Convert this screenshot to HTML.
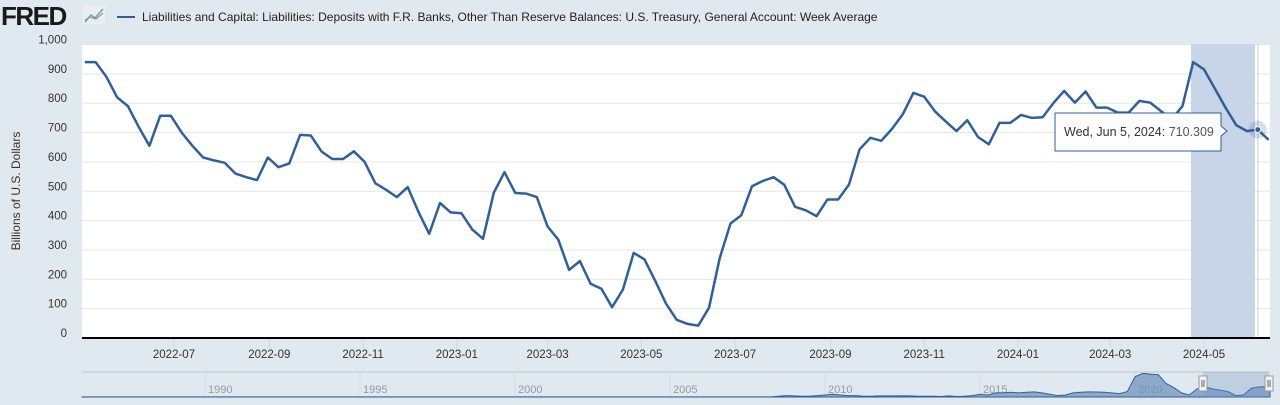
<!DOCTYPE html>
<html><head><meta charset="utf-8"><style>
html,body{margin:0;padding:0;background:#e1e9f0;width:1280px;height:405px;overflow:hidden;font-family:"Liberation Sans",sans-serif}
svg text{font-family:"Liberation Sans",sans-serif}
</style></head><body>
<svg id="chart" width="1280" height="405">
<g>
<text x="1" y="25" font-size="26" font-weight="bold" fill="#1a1a1a" letter-spacing="-1.5">FRED</text>
<rect x="83" y="6" width="22" height="18" fill="#e8eef3"/>
<polyline points="85,22 91,15 95,18 103,9" fill="none" stroke="#7fa86a" stroke-width="1.5"/>
<polyline points="85,20 90,17 96,19 103,13" fill="none" stroke="#6b8cb8" stroke-width="1"/>
</g>
<line x1="117" y1="17" x2="135" y2="17" stroke="#2f5f98" stroke-width="2"/>
<text x="142" y="21" font-size="12" fill="#222">Liabilities and Capital: Liabilities: Deposits with F.R. Banks, Other Than Reserve Balances: U.S. Treasury, General Account: Week Average</text>
<rect x="82" y="44" width="1188" height="294" fill="#fff"/>
<g id="grid"></g>
<rect x="1191" y="44" width="64" height="294" fill="#c8d4e8"/>
<line x1="1258" y1="44" x2="1258" y2="338" stroke="#ccc" stroke-width="1"/>
<g id="yticks"></g>
<g id="xticks"></g>
<text transform="translate(20,191) rotate(-90)" text-anchor="middle" font-size="12" fill="#333">Billions of U.S. Dollars</text>
<path id="line" fill="none" stroke="#30609a" stroke-width="2.5" stroke-linejoin="round"/>
<line x1="82" y1="338" x2="1270" y2="338" stroke="#000" stroke-width="2"/>
<g id="nav"></g>
<circle id="halo" r="9" fill="#30609a" opacity="0.2"/>
<circle id="dot" r="3" fill="#30609a" stroke="#fff" stroke-width="1"/>
<g>
<path d="M1055,113 H1221 V126 L1227,131 L1221,136 V151 H1055 Z" fill="#fdfdfe" stroke="#30609a" stroke-width="1"/>
<text x="1064" y="136" font-size="12.5" fill="#333">Wed, Jun 5, 2024: <tspan fill="#555">710.309</tspan></text>
</g>
</svg>
<script>
const values = [940,940,890,820,790,720,655,757,757,700,655,615,605,597,560,548,538,615,582,595,692,690,635,610,610,636,600,527,505,480,514,430,355,460,428,425,370,338,495,565,494,492,480,380,335,232,262,185,168,105,165,290,268,195,118,62,48,42,103,272,390,418,517,535,548,522,447,435,415,472,472,522,643,682,672,712,762,835,822,772,738,705,742,685,660,733,733,760,750,752,800,842,802,840,785,785,768,768,808,802,773,745,790,940,915,850,785,725,705,710,675];
const startDate = "2022-05-04";
const yTicks = [0,100,200,300,400,500,600,700,800,900,1000];
const xTickLabels = ["2022-07","2022-09","2022-11","2023-01","2023-03","2023-05","2023-07","2023-09","2023-11","2024-01","2024-03","2024-05"];
const navYears = ["1990","1995","2000","2005","2010","2015","2020"];
// quarterly navigator values from 2008 Q1 to mid-2024 (billions); earlier history ~5
const navStart = 2008;
const navValues = [5,5,50,100, 80,60,50,100, 150,200,150,100, 100,50,60,80, 80,80,90,80, 60,50,60,40, 80,40,60,100, 200,150,300,300, 350,300,350,380, 300,200,100,150, 300,350,380,370, 350,300,250,400, 1500,1750,1700,1650, 1000,700,300,150, 600,750,600,500, 400,100,150,650, 750,750,700];
const NS="http://www.w3.org/2000/svg";
const DAY=86400000, T0=Date.UTC(2022,6,1), T1=Date.UTC(2024,4,1);
function x(t){return 174+(t-T0)/(T1-T0)*(1204-174);}
function y(v){return 338-v*0.2935;}
function nx(yr){return 205+(yr-1990)*31;}
function ny(v){return 397-v*0.0135;}
function mk(tag,attrs,parent){const e=document.createElementNS(NS,tag);for(const k in attrs)e.setAttribute(k,attrs[k]);parent.appendChild(e);return e;}
const grid=document.getElementById('grid'), yt=document.getElementById('yticks'), xt=document.getElementById('xticks');
yTicks.forEach(v=>{
  if(v>0){const g=mk('line',{x1:82,x2:1270,y1:y(v),y2:y(v),stroke:'#e6e6e6','stroke-width':1},grid);
  
  }
  const t=mk('text',{x:67,y:y(v)-1,'text-anchor':'end','font-size':11.5,fill:'#333'},yt);
  t.textContent=v.toLocaleString('en-US');
  
  
});
xTickLabels.forEach(s=>{
  const [yy,mm]=s.split('-').map(Number);
  const px=x(Date.UTC(yy,mm-1,1));
  const l=mk('line',{x1:px,x2:px,y1:338,y2:348,stroke:'#ccd6eb'},xt);
  
  
  const t=mk('text',{x:px,y:358,'text-anchor':'middle','font-size':11.5,fill:'#333'},xt);
  t.textContent=s;
  
  
});
const s0=Date.parse(startDate+"T00:00:00Z");
let d="";
values.forEach((v,i)=>{d+=(i?"L":"M")+x(s0+i*7*DAY).toFixed(1)+","+y(v).toFixed(1);});
document.getElementById('line').setAttribute('d',d);
const hi=values.length-2, hx=x(s0+hi*7*DAY), hy=y(values[hi]);
['halo','dot'].forEach(id=>{const e=document.getElementById(id);e.setAttribute('cx',hx);e.setAttribute('cy',hy);});
// navigator
const nav=document.getElementById('nav');
const bg=mk('rect',{x:82,y:372,width:1188,height:25,fill:'#e1e9f0'},nav);


mk('line',{x1:82,x2:1270,y1:372,y2:372,stroke:'#cfd8e0','stroke-width':2},nav);
navYears.forEach(yr=>{
  const px=nx(+yr);
  mk('line',{x1:px,x2:px,y1:372,y2:397,stroke:'#d4dde6'},nav);
  const t=mk('text',{x:px+3,y:393,'font-size':11,fill:'#999'},nav);
  t.textContent=yr;
  
  
});
let nd="M82,397L82,"+ny(5).toFixed(1);
navValues.forEach((v,i)=>{const px=Math.min(1270,nx(navStart+i*0.25));nd+="L"+px.toFixed(1)+","+ny(v).toFixed(1);});
nd+="L1270,"+ny(navValues[navValues.length-1]).toFixed(1)+"L1270,397Z";
const na=mk('path',{d:nd,fill:'#6f93bd','fill-opacity':0.75,stroke:'#30609a','stroke-width':1},nav);


const sel=mk('rect',{x:1203,y:372,width:66,height:25,fill:'#6f93bd','fill-opacity':0.3},nav);


[1203,1269].forEach(px=>{
  const h=mk('rect',{x:px-4,y:376,width:8,height:15,fill:'#f2f2f2',stroke:'#999'},nav);
  
  
  mk('line',{x1:px-1,x2:px-1,y1:380,y2:387,stroke:'#666'},nav);
  mk('line',{x1:px+1,x2:px+1,y1:380,y2:387,stroke:'#666'},nav);
});
</script>
</body></html>
